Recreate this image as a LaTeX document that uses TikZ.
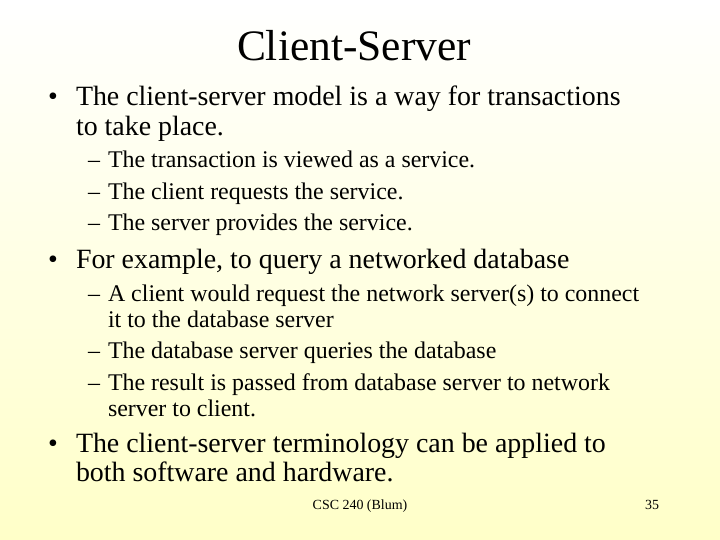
\documentclass[tikz,border=0pt]{standalone}
\usepackage{fontspec}
\setmainfont{Liberation Serif}
\begin{document}
\begin{tikzpicture}[x=1bp,y=-1bp,
  every node/.style={inner sep=0pt,outer sep=0pt,anchor=base west},
  mainf/.style={font=\fontsize{28}{30}\selectfont},
  subf/.style={font=\fontsize{24}{25}\selectfont},
  titlef/.style={font=\fontsize{43.6}{46}\selectfont}]
\shade[top color=white,bottom color={rgb,255:red,255;green,255;blue,200}] (0,0) rectangle (720,540);
\useasboundingbox (0,0) rectangle (720,540);
\node[titlef,anchor=base] (t) at (354,61) {Client-Server};
\node[mainf] (b1) at (48,106) {•};
\node[mainf] (l1) at (76,106) {The client-server model is a way for transactions};
\node[mainf] (l2) at (76,136) {to take place.};
\node[subf] (d1) at (88,168) {–};
\node[subf] (s1) at (108,168) {The transaction is viewed as a service.};
\node[subf] (d2) at (88,200) {–};
\node[subf] (s2) at (108,200) {The client requests the service.};
\node[subf] (d3) at (88,231) {–};
\node[subf] (s3) at (108,231) {The server provides the service.};
\node[mainf] (b2) at (48,269) {•};
\node[mainf] (l3) at (76,269) {For example, to query a networked database};
\node[subf] (d4) at (88,301) {–};
\node[subf] (s4) at (108,301) {A client would request the network server(s) to connect};
\node[subf] (s4b) at (108,327) {it to the database server};
\node[subf] (d5) at (88,358) {–};
\node[subf] (s5) at (108,358) {The database server queries the database};
\node[subf] (d6) at (88,390) {–};
\node[subf] (s6) at (108,390) {The result is passed from database server to network};
\node[subf] (s6b) at (108,416) {server to client.};
\node[mainf] (b3) at (48,452) {•};
\node[mainf] (l4) at (76,452) {The client-server terminology can be applied to};
\node[mainf] (l5) at (76,481) {both software and hardware.};
\node[font=\fontsize{14}{15}\selectfont,anchor=base] (f) at (360,509) {CSC 240 (Blum)};
\node[font=\fontsize{14}{15}\selectfont,anchor=base] (p) at (652,509) {35};
\end{tikzpicture}
\end{document}
